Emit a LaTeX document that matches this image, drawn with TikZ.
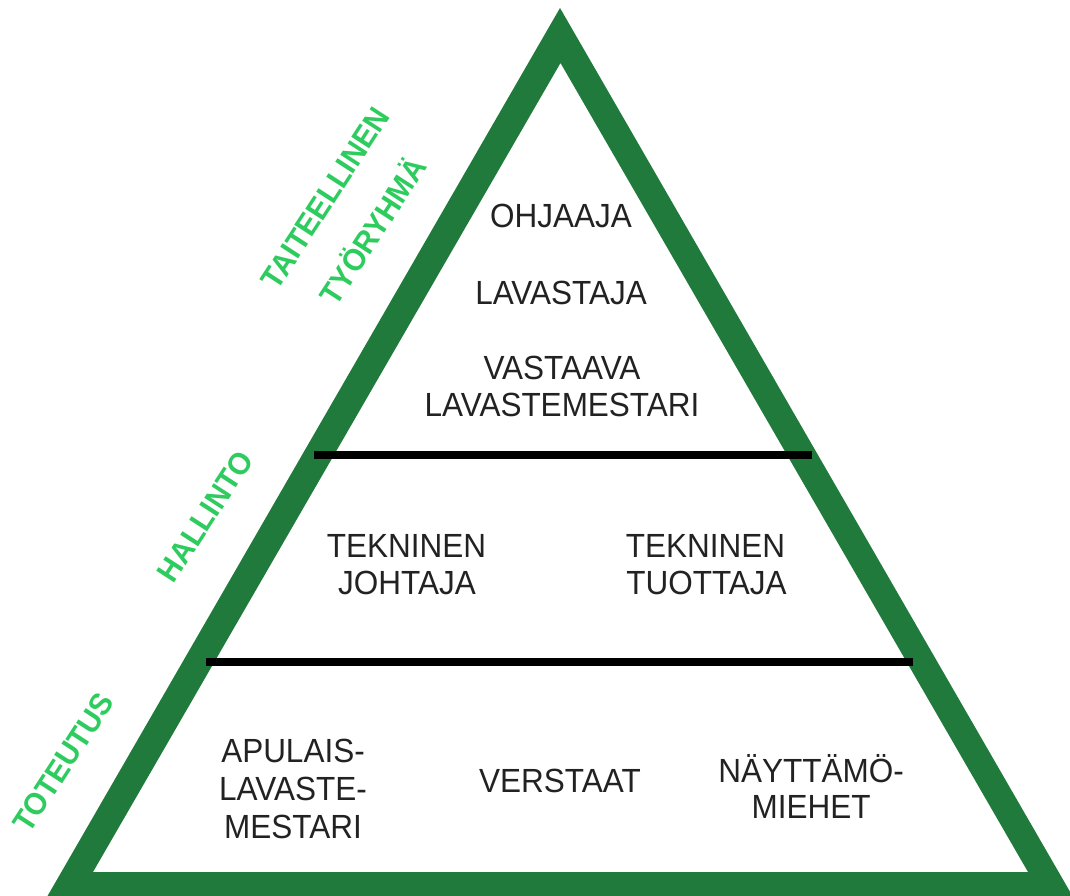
\documentclass[tikz,border=0pt]{standalone}
\usepackage{fontspec}
\newfontfamily\txtfont[FakeStretch=0.94]{Liberation Sans}
\newfontfamily\lblfont[FakeStretch=0.95]{Liberation Sans Bold}
\definecolor{pyrgreen}{HTML}{1F7A3C}
\definecolor{lblgreen}{HTML}{2ECC5F}
\definecolor{txtgray}{HTML}{222222}
\tikzset{
  txt/.style={font=\txtfont\fontsize{33.5}{38}\selectfont, text=txtgray, inner sep=0pt, text height=24pt, text depth=0pt, anchor=center},
  lbl/.style={font=\lblfont\fontsize{31}{36}\selectfont, text=lblgreen, inner sep=0pt, text height=22.2pt, text depth=0pt, anchor=center, rotate=57},
  divider/.style={line width=8pt, draw=black}
}
\begin{document}
\begin{tikzpicture}[x=1pt, y=-1pt]
\useasboundingbox (0,0) rectangle (1070,896);
\fill[white] (0,0) rectangle (1070,896);
\begin{scope}
\clip (0,0) rectangle (1070,896);
\fill[pyrgreen, even odd rule] (560,8) -- (45.5,899.5) -- (1074.5,899.5) -- cycle
  (560.5,63) -- (93,872) -- (1028,872) -- cycle;
\end{scope}
% dividers
\coordinate (d1l) at (314,455);
\coordinate (d1r) at (812,455);
\coordinate (d2l) at (206,662);
\coordinate (d2r) at (913,662);
\draw[divider] (d1l) -- (d1r);
\draw[divider] (d2l) -- (d2r);
% top section
\node[txt] (ohj) at (561,215) {OHJAAJA};
\node[txt] (lav) at (561,292.5) {LAVASTAJA};
\node[txt] (vas1) at (562,367.5) {VASTAAVA};
\node[txt] (vas2) at (562,404) {LAVASTEMESTARI};
% middle section
\node[txt] (tj1) at (406.5,545) {TEKNINEN};
\node[txt] (tj2) at (407,582.5) {JOHTAJA};
\node[txt] (tt1) at (705.5,545) {TEKNINEN};
\node[txt] (tt2) at (706.5,582.5) {TUOTTAJA};
% bottom section
\node[txt] (ap1) at (293,750) {APULAIS-};
\node[txt] (ap2) at (293,788) {LAVASTE-};
\node[txt] (ap3) at (293,826) {MESTARI};
\node[txt] (ver) at (560,780) {VERSTAAT};
\node[txt] (nay1) at (811,770) {NÄYTTÄMÖ-};
\node[txt] (nay2) at (811,806) {MIEHET};
% side labels
\node[lbl] (ltai) at (325,198) {TAITEELLINEN};
\node[lbl] (ltyo) at (373,231) {TYÖRYHMÄ};
\node[lbl] (lhal) at (205,516) {HALLINTO};
\node[lbl] (ltot) at (63,762) {TOTEUTUS};
\end{tikzpicture}
\end{document}
